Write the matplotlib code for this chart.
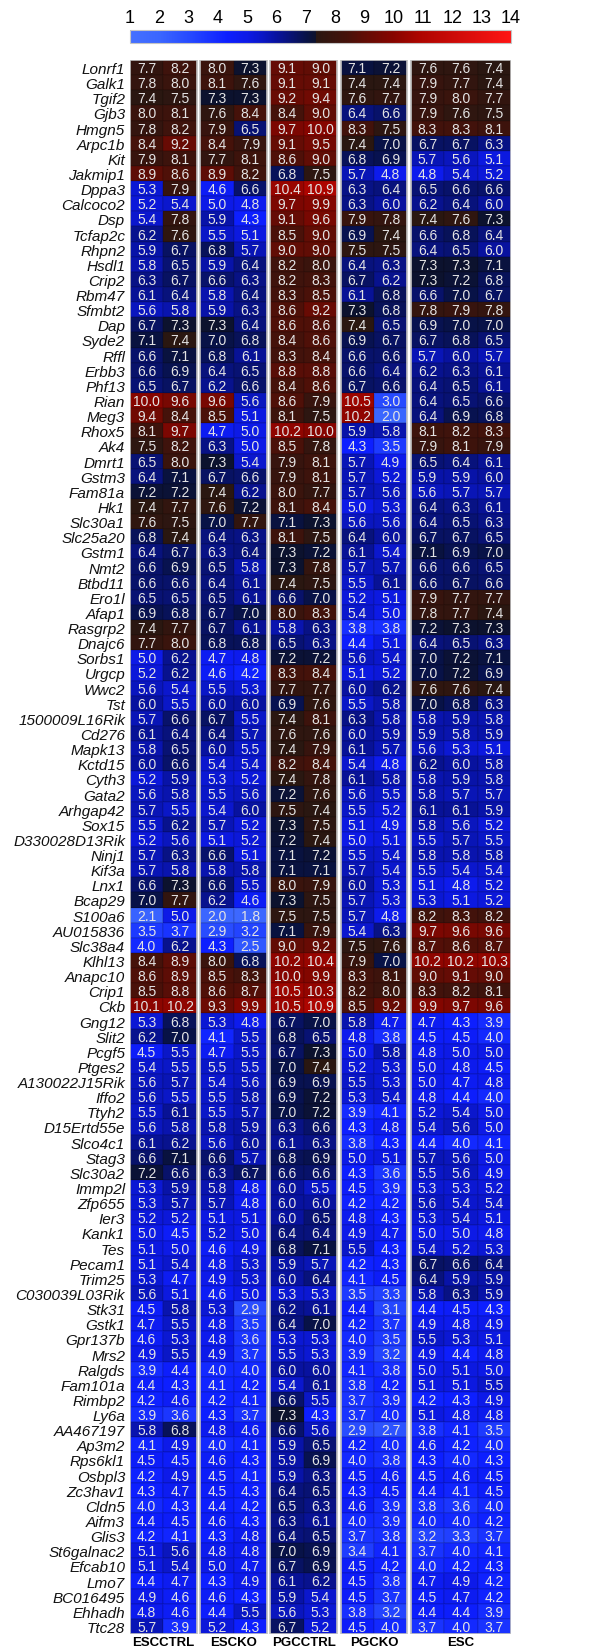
import numpy as np
import matplotlib
matplotlib.use("Agg")
import matplotlib.pyplot as plt
from matplotlib.colors import LinearSegmentedColormap
from matplotlib.patches import Rectangle

plt.rcParams['font.family'] = ['Liberation Sans', 'DejaVu Sans']

genes = ['Lonrf1', 'Galk1', 'Tgif2', 'Gjb3', 'Hmgn5', 'Arpc1b', 'Kit', 'Jakmip1', 'Dppa3',
         'Calcoco2', 'Dsp', 'Tcfap2c', 'Rhpn2', 'Hsdl1', 'Crip2', 'Rbm47', 'Sfmbt2', 'Dap',
         'Syde2', 'Rffl', 'Erbb3', 'Phf13', 'Rian', 'Meg3', 'Rhox5', 'Ak4', 'Dmrt1', 'Gstm3',
         'Fam81a', 'Hk1', 'Slc30a1', 'Slc25a20', 'Gstm1', 'Nmt2', 'Btbd11', 'Ero1l', 'Afap1',
         'Rasgrp2', 'Dnajc6', 'Sorbs1', 'Urgcp', 'Wwc2', 'Tst', '1500009L16Rik', 'Cd276',
         'Mapk13', 'Kctd15', 'Cyth3', 'Gata2', 'Arhgap42', 'Sox15', 'D330028D13Rik', 'Ninj1',
         'Kif3a', 'Lnx1', 'Bcap29', 'S100a6', 'AU015836', 'Slc38a4', 'Klhl13', 'Anapc10',
         'Crip1', 'Ckb', 'Gng12', 'Slit2', 'Pcgf5', 'Ptges2', 'A130022J15Rik', 'Iffo2', 'Ttyh2',
         'D15Ertd55e', 'Slco4c1', 'Stag3', 'Slc30a2', 'Immp2l', 'Zfp655', 'Ier3', 'Kank1', 'Tes',
         'Pecam1', 'Trim25', 'C030039L03Rik', 'Stk31', 'Gstk1', 'Gpr137b', 'Mrs2', 'Ralgds',
         'Fam101a', 'Rimbp2', 'Ly6a', 'AA467197', 'Ap3m2', 'Rps6kl1', 'Osbpl3', 'Zc3hav1',
         'Cldn5', 'Aifm3', 'Glis3', 'St6galnac2', 'Efcab10', 'Lmo7', 'BC016495', 'Ehhadh', 'Ttc28']

groups = ['ESCCTRL', 'ESCKO', 'PGCCTRL', 'PGCKO', 'ESC']

# one list per sample group, one row per gene
esc_ctrl = [(7.7, 8.2), (7.8, 8.0), (7.4, 7.5), (8.0, 8.1), (7.8, 8.2), (8.4, 9.2), (7.9, 8.1),
            (8.9, 8.6), (5.3, 7.9), (5.2, 5.4), (5.4, 7.8), (6.2, 7.6), (5.9, 6.7), (5.8, 6.5),
            (6.3, 6.7), (6.1, 6.4), (5.6, 5.8), (6.7, 7.3), (7.1, 7.4), (6.6, 7.1), (6.6, 6.9),
            (6.5, 6.7), (10.0, 9.6), (9.4, 8.4), (8.1, 9.7), (7.5, 8.2), (6.5, 8.0), (6.4, 7.1),
            (7.2, 7.2), (7.4, 7.7), (7.6, 7.5), (6.8, 7.4), (6.4, 6.7), (6.6, 6.9), (6.6, 6.6),
            (6.5, 6.5), (6.9, 6.8), (7.4, 7.7), (7.7, 8.0), (5.0, 6.2), (5.2, 6.2), (5.6, 5.4),
            (6.0, 5.5), (5.7, 6.6), (6.1, 6.4), (5.8, 6.5), (6.0, 6.6), (5.2, 5.9), (5.6, 5.8),
            (5.7, 5.5), (5.5, 6.2), (5.2, 5.6), (5.7, 6.3), (5.7, 5.8), (6.6, 7.3), (7.0, 7.7),
            (2.1, 5.0), (3.5, 3.7), (4.0, 6.2), (8.4, 8.9), (8.6, 8.9), (8.5, 8.8), (10.1, 10.2),
            (5.3, 6.8), (6.2, 7.0), (4.5, 5.5), (5.4, 5.5), (5.6, 5.7), (5.6, 5.5), (5.5, 6.1),
            (5.6, 5.8), (6.1, 6.2), (6.6, 7.1), (7.2, 6.6), (5.3, 5.9), (5.3, 5.7), (5.2, 5.2),
            (5.0, 4.5), (5.1, 5.0), (5.1, 5.4), (5.3, 4.7), (5.6, 5.1), (4.5, 5.8), (4.7, 5.5),
            (4.6, 5.3), (4.9, 5.5), (3.9, 4.4), (4.4, 4.3), (4.2, 4.6), (3.9, 3.6), (5.8, 6.8),
            (4.1, 4.9), (4.5, 4.5), (4.2, 4.9), (4.3, 4.7), (4.0, 4.3), (4.4, 4.5), (4.2, 4.1),
            (5.1, 5.6), (5.1, 5.4), (4.4, 4.7), (4.9, 4.6), (4.8, 4.6), (5.7, 3.9)]

esc_ko = [(8.0, 7.3), (8.1, 7.6), (7.3, 7.3), (7.6, 8.4), (7.9, 6.5), (8.4, 7.9), (7.7, 8.1),
          (8.9, 8.2), (4.6, 6.6), (5.0, 4.8), (5.9, 4.3), (5.5, 5.1), (6.8, 5.7), (5.9, 6.4),
          (6.6, 6.3), (5.8, 6.4), (5.9, 6.3), (7.3, 6.4), (7.0, 6.8), (6.8, 6.1), (6.4, 6.5),
          (6.2, 6.6), (9.6, 5.6), (8.5, 5.1), (4.7, 5.0), (6.3, 5.0), (7.3, 5.4), (6.7, 6.6),
          (7.4, 6.2), (7.6, 7.2), (7.0, 7.7), (6.4, 6.3), (6.3, 6.4), (6.5, 5.8), (6.4, 6.1),
          (6.5, 6.1), (6.7, 7.0), (6.7, 6.1), (6.8, 6.8), (4.7, 4.8), (4.6, 4.2), (5.5, 5.3),
          (6.0, 6.0), (6.7, 5.5), (6.4, 5.7), (6.0, 5.5), (5.4, 5.4), (5.3, 5.2), (5.5, 5.6),
          (5.4, 6.0), (5.7, 5.2), (5.1, 5.2), (6.6, 5.1), (5.8, 5.8), (6.6, 5.5), (6.2, 4.6),
          (2.0, 1.8), (2.9, 3.2), (4.3, 2.5), (8.0, 6.8), (8.5, 8.3), (8.6, 8.7), (9.3, 9.9),
          (5.3, 4.8), (4.1, 5.5), (4.7, 5.5), (5.5, 5.5), (5.4, 5.6), (5.5, 5.8), (5.5, 5.7),
          (5.8, 5.9), (5.6, 6.0), (6.6, 5.7), (6.3, 6.7), (5.8, 4.8), (5.7, 4.8), (5.1, 5.1),
          (5.2, 5.0), (4.6, 4.9), (4.8, 5.3), (4.9, 5.3), (4.6, 5.0), (5.3, 2.9), (4.8, 3.5),
          (4.8, 3.6), (4.9, 3.7), (4.0, 4.0), (4.1, 4.2), (4.2, 4.1), (4.3, 3.7), (4.8, 4.6),
          (4.0, 4.1), (4.6, 4.3), (4.5, 4.1), (4.5, 4.3), (4.4, 4.2), (4.6, 4.3), (4.3, 4.8),
          (4.8, 4.8), (5.0, 4.7), (4.3, 4.9), (4.6, 4.3), (4.4, 5.5), (5.2, 4.3)]

pgc_ctrl = [(9.1, 9.0), (9.1, 9.1), (9.2, 9.4), (8.4, 9.0), (9.7, 10.0), (9.1, 9.5), (8.6, 9.0),
            (6.8, 7.5), (10.4, 10.9), (9.7, 9.9), (9.1, 9.6), (8.5, 9.0), (9.0, 9.0), (8.2, 8.0),
            (8.2, 8.3), (8.3, 8.5), (8.6, 9.2), (8.6, 8.6), (8.4, 8.6), (8.3, 8.4), (8.8, 8.8),
            (8.4, 8.6), (8.6, 7.9), (8.1, 7.5), (10.2, 10.0), (8.5, 7.8), (7.9, 8.1), (7.9, 8.1),
            (8.0, 7.7), (8.1, 8.4), (7.1, 7.3), (8.1, 7.5), (7.3, 7.2), (7.3, 7.8), (7.4, 7.5),
            (6.6, 7.0), (8.0, 8.3), (5.8, 6.3), (6.5, 6.3), (7.2, 7.2), (8.3, 8.4), (7.7, 7.7),
            (6.9, 7.6), (7.4, 8.1), (7.6, 7.6), (7.4, 7.9), (8.2, 8.4), (7.4, 7.8), (7.2, 7.6),
            (7.5, 7.4), (7.3, 7.5), (7.2, 7.4), (7.1, 7.2), (7.1, 7.1), (8.0, 7.9), (7.3, 7.5),
            (7.5, 7.5), (7.1, 7.9), (9.0, 9.2), (10.2, 10.4), (10.0, 9.9), (10.5, 10.3), (10.5, 10.9),
            (6.7, 7.0), (6.8, 6.5), (6.7, 7.3), (7.0, 7.4), (6.9, 6.9), (6.9, 7.2), (7.0, 7.2),
            (6.3, 6.6), (6.1, 6.3), (6.8, 6.9), (6.6, 6.6), (6.0, 5.5), (6.0, 6.0), (6.0, 6.5),
            (6.4, 6.4), (6.8, 7.1), (5.9, 5.7), (6.0, 6.4), (5.3, 5.3), (6.2, 6.1), (6.4, 7.0),
            (5.3, 5.3), (5.5, 5.3), (6.0, 6.0), (5.4, 6.1), (6.6, 5.5), (7.3, 4.3), (6.6, 5.6),
            (5.9, 6.5), (5.9, 6.9), (5.9, 6.3), (6.4, 6.5), (6.5, 6.3), (6.3, 6.1), (6.4, 6.5),
            (7.0, 6.9), (6.7, 6.9), (6.1, 6.2), (5.9, 5.4), (5.6, 5.3), (6.7, 5.2)]

pgc_ko = [(7.1, 7.2), (7.4, 7.4), (7.6, 7.7), (6.4, 6.6), (8.3, 7.5), (7.4, 7.0), (6.8, 6.9),
          (5.7, 4.8), (6.3, 6.4), (6.3, 6.0), (7.9, 7.8), (6.9, 7.4), (7.5, 7.5), (6.4, 6.3),
          (6.7, 6.2), (6.1, 6.8), (7.3, 6.8), (7.4, 6.5), (6.9, 6.7), (6.6, 6.6), (6.6, 6.4),
          (6.7, 6.6), (10.5, 3.0), (10.2, 2.0), (5.9, 5.8), (4.3, 3.5), (5.7, 4.9), (5.7, 5.2),
          (5.7, 5.6), (5.0, 5.3), (5.6, 5.6), (6.4, 6.0), (6.1, 5.4), (5.7, 5.7), (5.5, 6.1),
          (5.2, 5.1), (5.4, 5.0), (3.8, 3.8), (4.4, 5.1), (5.6, 5.4), (5.1, 5.2), (6.0, 6.2),
          (5.5, 5.8), (6.3, 5.8), (6.0, 5.9), (6.1, 5.7), (5.4, 4.8), (6.1, 5.8), (5.6, 5.5),
          (5.5, 5.2), (5.1, 4.9), (5.0, 5.1), (5.5, 5.4), (5.7, 5.4), (6.0, 5.3), (5.7, 5.3),
          (5.7, 4.8), (5.4, 6.3), (7.5, 7.6), (7.9, 7.0), (8.3, 8.1), (8.2, 8.0), (8.5, 9.2),
          (5.8, 4.7), (4.8, 3.8), (5.0, 5.8), (5.2, 5.3), (5.5, 5.3), (5.3, 5.4), (3.9, 4.1),
          (4.3, 4.8), (3.8, 4.3), (5.0, 5.1), (4.3, 3.6), (4.5, 3.9), (4.2, 4.2), (4.8, 4.3),
          (4.9, 4.7), (5.5, 4.3), (4.2, 4.3), (4.1, 4.5), (3.5, 3.3), (4.4, 3.1), (4.2, 3.7),
          (4.0, 3.5), (3.9, 3.2), (4.1, 3.8), (3.8, 4.2), (3.7, 3.9), (3.7, 4.0), (2.9, 2.7),
          (4.2, 4.0), (4.0, 3.8), (4.5, 4.6), (4.3, 4.5), (4.6, 3.9), (4.0, 3.9), (3.7, 3.8),
          (3.4, 4.1), (4.5, 4.2), (4.5, 3.8), (4.5, 3.7), (3.8, 3.2), (4.5, 4.0)]

esc = [(7.6, 7.6, 7.4), (7.9, 7.7, 7.4), (7.9, 8.0, 7.7), (7.9, 7.6, 7.5), (8.3, 8.3, 8.1),
       (6.7, 6.7, 6.3), (5.7, 5.6, 5.1), (4.8, 5.4, 5.2), (6.5, 6.6, 6.6), (6.2, 6.4, 6.0),
       (7.4, 7.6, 7.3), (6.6, 6.8, 6.4), (6.4, 6.5, 6.0), (7.3, 7.3, 7.1), (7.3, 7.2, 6.8),
       (6.6, 7.0, 6.7), (7.8, 7.9, 7.8), (6.9, 7.0, 7.0), (6.7, 6.8, 6.5), (5.7, 6.0, 5.7),
       (6.2, 6.3, 6.1), (6.4, 6.5, 6.1), (6.4, 6.5, 6.6), (6.4, 6.9, 6.8), (8.1, 8.2, 8.3),
       (7.9, 8.1, 7.9), (6.5, 6.4, 6.1), (5.9, 5.9, 6.0), (5.6, 5.7, 5.7), (6.4, 6.3, 6.1),
       (6.4, 6.5, 6.3), (6.7, 6.7, 6.5), (7.1, 6.9, 7.0), (6.6, 6.6, 6.5), (6.6, 6.7, 6.6),
       (7.9, 7.7, 7.7), (7.8, 7.7, 7.4), (7.2, 7.3, 7.3), (6.4, 6.5, 6.3), (7.0, 7.2, 7.1),
       (7.0, 7.2, 6.9), (7.6, 7.6, 7.4), (7.0, 6.8, 6.3), (5.8, 5.9, 5.8), (5.9, 5.8, 5.9),
       (5.6, 5.3, 5.1), (6.2, 6.0, 5.8), (5.8, 5.9, 5.8), (5.8, 5.7, 5.7), (6.1, 6.1, 5.9),
       (5.8, 5.6, 5.2), (5.5, 5.7, 5.5), (5.8, 5.8, 5.8), (5.5, 5.4, 5.4), (5.1, 4.8, 5.2),
       (5.3, 5.1, 5.2), (8.2, 8.3, 8.2), (9.7, 9.6, 9.6), (8.7, 8.6, 8.7), (10.2, 10.2, 10.3),
       (9.0, 9.1, 9.0), (8.3, 8.2, 8.1), (9.9, 9.7, 9.6), (4.7, 4.3, 3.9), (4.5, 4.5, 4.0),
       (4.8, 5.0, 5.0), (5.0, 4.8, 4.5), (5.0, 4.7, 4.8), (4.8, 4.4, 4.0), (5.2, 5.4, 5.0),
       (5.4, 5.6, 5.0), (4.4, 4.0, 4.1), (5.7, 5.6, 5.0), (5.5, 5.6, 4.9), (5.3, 5.3, 5.2),
       (5.6, 5.4, 5.4), (5.3, 5.4, 5.1), (5.0, 5.0, 4.8), (5.4, 5.2, 5.3), (6.7, 6.6, 6.4),
       (6.4, 5.9, 5.9), (5.8, 6.3, 5.9), (4.4, 4.5, 4.3), (4.9, 4.8, 4.9), (5.5, 5.3, 5.1),
       (4.9, 4.4, 4.8), (5.0, 5.1, 5.0), (5.1, 5.1, 5.5), (4.2, 4.3, 4.9), (5.1, 4.8, 4.8),
       (3.8, 4.1, 3.5), (4.6, 4.2, 4.0), (4.3, 4.0, 4.3), (4.5, 4.6, 4.5), (4.4, 4.1, 4.5),
       (3.8, 3.6, 4.0), (4.0, 4.0, 4.2), (3.2, 3.3, 3.7), (3.7, 4.0, 4.1), (4.0, 4.2, 4.3),
       (4.7, 4.9, 4.2), (4.5, 4.7, 4.2), (4.4, 4.4, 3.9), (3.7, 4.0, 3.7)]

group_data = [esc_ctrl, esc_ko, pgc_ctrl, pgc_ko, esc]

# blue - black - red key, 1 to 14
vmin, vmax = 1, 14
nodes = [(1.0, (0.27, 0.44, 1.0)), (2.0, (0.23, 0.40, 1.0)), (3.0, (0.15, 0.29, 1.0)),
         (4.3, (0.05, 0.12, 1.0)), (5.0, (0.05, 0.10, 0.90)), (5.5, (0.04, 0.09, 0.78)),
         (6.0, (0.03, 0.07, 0.62)), (6.5, (0.03, 0.07, 0.45)), (7.0, (0.03, 0.07, 0.28)),
         (7.34, (0.05, 0.07, 0.17)), (7.36, (0.16, 0.09, 0.07)), (8.4, (0.27, 0.07, 0.04)),
         (9.0, (0.38, 0.05, 0.02)), (10.0, (0.53, 0.02, 0.0)), (10.9, (0.68, 0.02, 0.0)),
         (14.0, (1.0, 0.08, 0.08))]
cmap = LinearSegmentedColormap.from_list(
    'bkr', [((v - vmin) / (vmax - vmin), c) for v, c in nodes], N=512)

W, H = 599, 1649
fig = plt.figure(figsize=(W / 100, H / 100), dpi=100)
ax = fig.add_axes([130 / W, 14 / H, 381 / W, 1574 / H])

n = len(genes)
gap = 0.1
x0 = 0.0
centers = []
for name, data in zip(groups, group_data):
    arr = np.array(data)
    ncol = arr.shape[1]
    xe = x0 + np.arange(ncol + 1)
    ye = np.arange(n + 1) - 0.5
    ax.pcolormesh(xe, ye, arr, cmap=cmap, vmin=vmin, vmax=vmax,
                  edgecolor=(0, 0, 0, 0.08), linewidth=0.3)
    for i in range(n):
        for j in range(ncol):
            ax.text(x0 + j + 0.5, i + 0.03, f'{arr[i, j]:.1f}', ha='center', va='center',
                    fontsize=10, color='#e4e4e4')
    ax.add_patch(Rectangle((x0, -0.5), ncol, n, fill=False, ec='#c4c4c4', lw=1.2))
    centers.append(x0 + ncol / 2)
    x0 += ncol + gap

ax.set_xlim(0, x0 - gap)
ax.set_ylim(n - 0.5, -0.5)
ax.set_yticks(np.arange(n))
ax.set_yticklabels(genes, fontsize=11, style='italic', color='#111111')
ax.set_xticks(centers)
ax.set_xticklabels(groups, fontsize=9.5, fontweight='bold')
ax.tick_params(length=0)
ax.tick_params(axis='y', pad=3.5)
ax.tick_params(axis='x', pad=1.5)
for s in ax.spines.values():
    s.set_visible(False)

# colour key on top
cax = fig.add_axes([130 / W, (H - 44) / H, 381 / W, 13 / H])
sm = plt.cm.ScalarMappable(cmap=cmap, norm=plt.Normalize(vmin, vmax))
cb = fig.colorbar(sm, cax=cax, orientation='horizontal', ticks=range(1, 15))
cb.ax.xaxis.set_ticks_position('top')
cb.ax.tick_params(length=0, labelsize=13, pad=3)
cb.outline.set_edgecolor('#c4c4c4')
cb.outline.set_linewidth(0.8)

fig.savefig('out.png', dpi=100)
